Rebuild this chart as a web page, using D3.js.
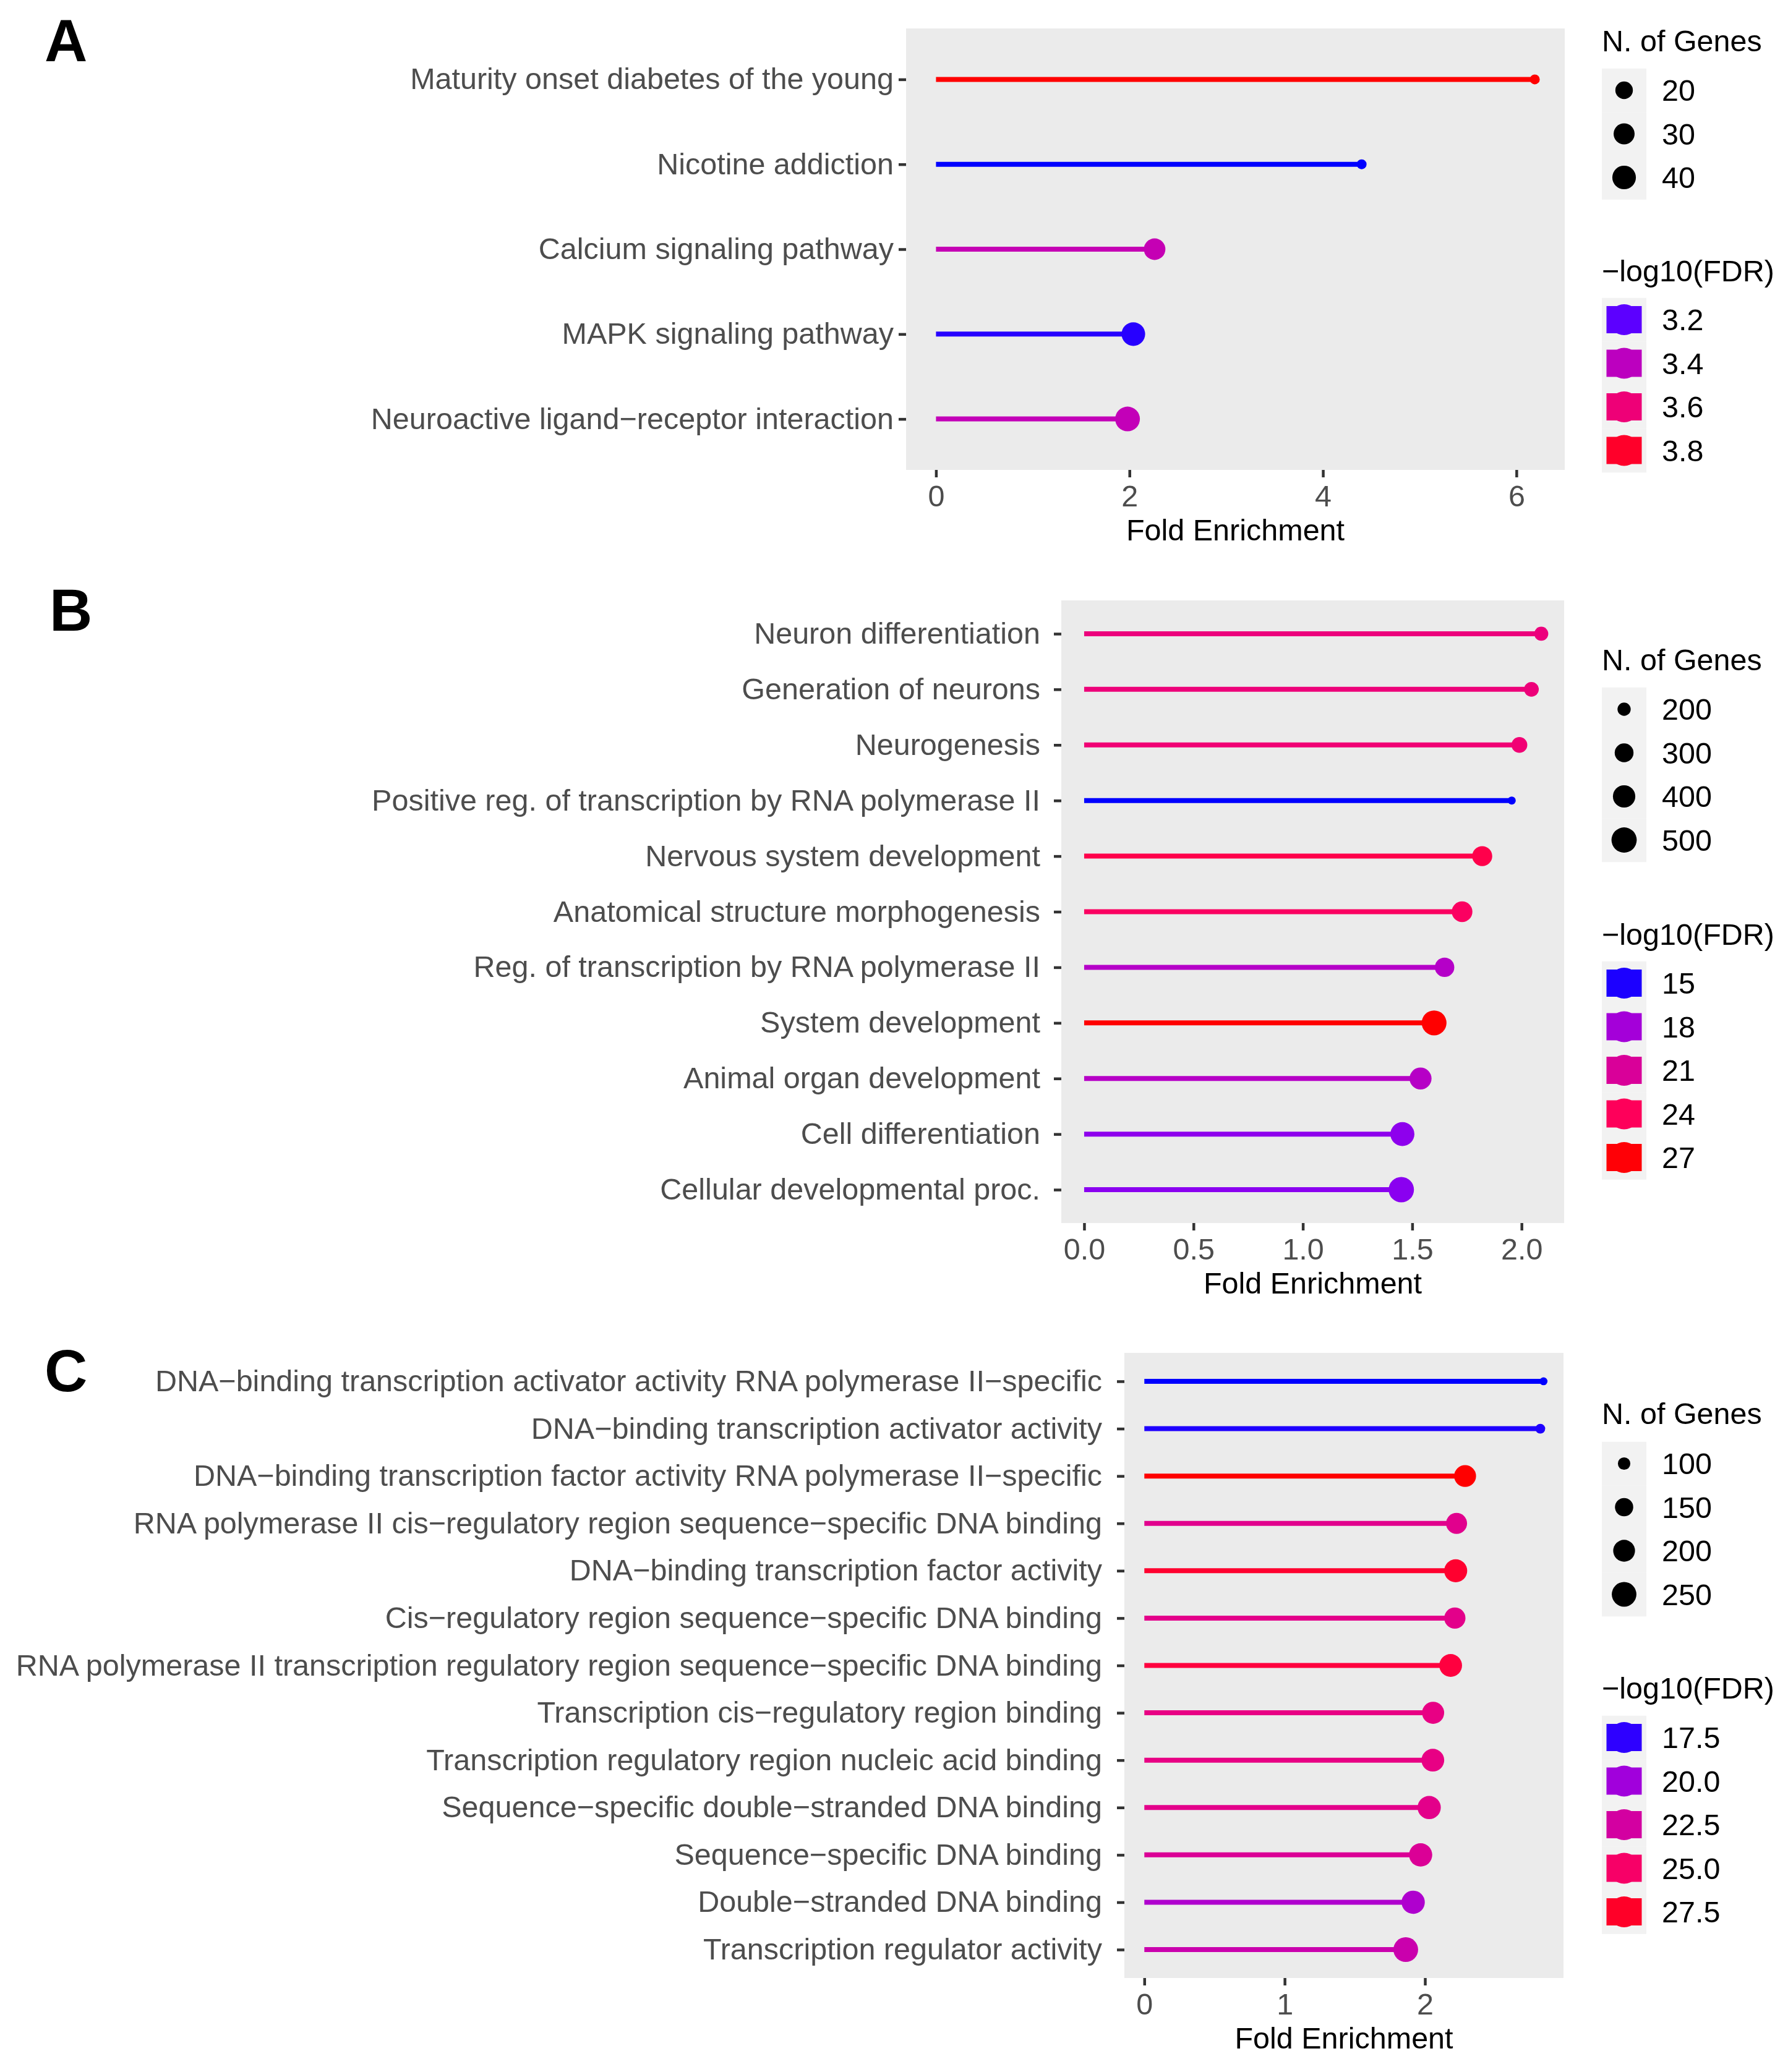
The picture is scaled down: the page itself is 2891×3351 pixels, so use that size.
<!DOCTYPE html>
<html>
<head>
<meta charset="utf-8">
<script src="https://cdn.jsdelivr.net/npm/d3@7"></script>
<style>
body { margin: 0; background: #fff; }
text { font-family: "Liberation Sans", Arial, sans-serif; }
</style>
</head>
<body>
<svg id="fig" width="2891" height="3351"></svg>
<script>
// ---- panel A: KEGG pathways ----
var aTerms = ["Maturity onset diabetes of the young", "Nicotine addiction", "Calcium signaling pathway",
    "MAPK signaling pathway", "Neuroactive ligand\u2212receptor interaction"];
var aFold = [6.19, 4.40, 2.26, 2.04, 1.98];
var aGenes = [11, 11, 32, 40, 45];
var aFdr = [3.86, 3.15, 3.43, 3.16, 3.42];
var aTicks = [0, 2, 4, 6];
var aTickLabels = ["0", "2", "4", "6"];
var aSizeBreaks = [20, 30, 40];
var aColorBreaks = [3.2, 3.4, 3.6, 3.8];
var aColorLabels = ["3.2", "3.4", "3.6", "3.8"];

// ---- panel B: biological process ----
var bTerms = ["Neuron differentiation", "Generation of neurons", "Neurogenesis",
    "Positive reg. of transcription by RNA polymerase II", "Nervous system development",
    "Anatomical structure morphogenesis", "Reg. of transcription by RNA polymerase II",
    "System development", "Animal organ development", "Cell differentiation", "Cellular developmental proc."];
var bFold = [2.09, 2.045, 1.99, 1.955, 1.82, 1.728, 1.648, 1.60, 1.538, 1.455, 1.45];
var bGenes = [210, 220, 238, 170, 331, 348, 315, 486, 388, 455, 505];
var bFdr = [22.4, 22.5, 22.8, 14.9, 24.7, 23.7, 18.8, 27.1, 18.9, 17.1, 17.0];
var bTicks = [0, 0.5, 1, 1.5, 2];
var bTickLabels = ["0.0", "0.5", "1.0", "1.5", "2.0"];
var bSizeBreaks = [200, 300, 400, 500];
var bColorBreaks = [15, 18, 21, 24, 27];
var bColorLabels = ["15", "18", "21", "24", "27"];

// ---- panel C: molecular function ----
var cTerms = ["DNA\u2212binding transcription activator activity RNA polymerase II\u2212specific",
    "DNA\u2212binding transcription activator activity",
    "DNA\u2212binding transcription factor activity RNA polymerase II\u2212specific",
    "RNA polymerase II cis\u2212regulatory region sequence\u2212specific DNA binding",
    "DNA\u2212binding transcription factor activity",
    "Cis\u2212regulatory region sequence\u2212specific DNA binding",
    "RNA polymerase II transcription regulatory region sequence\u2212specific DNA binding",
    "Transcription cis\u2212regulatory region binding",
    "Transcription regulatory region nucleic acid binding",
    "Sequence\u2212specific double\u2212stranded DNA binding",
    "Sequence\u2212specific DNA binding",
    "Double\u2212stranded DNA binding",
    "Transcription regulator activity"];
var cFold = [2.845, 2.822, 2.286, 2.225, 2.219, 2.213, 2.183, 2.058, 2.056, 2.030, 1.969, 1.916, 1.863];
var cGenes = [88, 90, 201, 188, 220, 191, 216, 205, 216, 224, 224, 224, 252];
var cFdr = [17.3, 17.4, 28.4, 23.4, 27.3, 23.5, 26.7, 23.8, 23.8, 23.5, 23.0, 20.6, 22.0];
var cTicks = [0, 1, 2];
var cTickLabels = ["0", "1", "2"];
var cSizeBreaks = [100, 150, 200, 250];
var cColorBreaks = [17.5, 20, 22.5, 25, 27.5];
var cColorLabels = ["17.5", "20.0", "22.5", "25.0", "27.5"];

var FS = 48.5;
var svg = d3.select("#fig");
svg.append("rect").attr("width", 2891).attr("height", 3351).attr("fill", "#fff");

function drawPanel(p) {
    var g = svg.append("g");
    var maxF = d3.max(p.fold);
    var x = d3.scaleLinear().domain([-0.05 * maxF, 1.05 * maxF]).range([p.left, p.right]);
    var y = d3.scalePoint().domain(p.terms).range([p.top, p.bottom]).padding(0.6);
    var lab = d3.scaleLinear().domain(d3.extent(p.fdr)).range(["blue", "red"]).interpolate(d3.interpolateLab);
    // the printed figure is a little brighter than a plain Lab ramp
    var col = (v) => d3.rgb(lab(v)).brighter(0.33).formatHex();
    var ext = d3.extent(p.genes);
    var rad = (v) => {
        var t = Math.max(0, (v - ext[0]) / (ext[1] - ext[0]));
        return p.rmin + (p.rmax - p.rmin) * Math.sqrt(t);
    };
    var rows = p.terms.map((t, i) => ({term: t, fold: p.fold[i], genes: p.genes[i], fdr: p.fdr[i]}));

    g.append("rect").attr("x", p.left).attr("y", p.top)
        .attr("width", p.right - p.left).attr("height", p.bottom - p.top).attr("fill", "#ebebeb");

    g.selectAll(".stem").data(rows).enter().append("line")
        .attr("x1", x(0)).attr("x2", (d) => x(d.fold))
        .attr("y1", (d) => y(d.term)).attr("y2", (d) => y(d.term))
        .attr("stroke", (d) => col(d.fdr)).attr("stroke-width", 8);

    g.selectAll(".dot").data(rows).enter().append("circle")
        .attr("cx", (d) => x(d.fold)).attr("cy", (d) => y(d.term))
        .attr("r", (d) => rad(d.genes)).attr("fill", (d) => col(d.fdr));

    // axes
    var yAxis = g.append("g").attr("transform", "translate(" + p.left + ",0)")
        .call(d3.axisLeft(y).tickSize(12).tickPadding(p.labelPad));
    var xAxis = g.append("g").attr("transform", "translate(0," + p.bottom + ")")
        .call(d3.axisBottom(x).tickValues(p.ticks).tickSize(12).tickPadding(13)
            .tickFormat((d, i) => p.tickLabels[i]));
    [yAxis, xAxis].forEach((ax) => {
        ax.select(".domain").remove();
        ax.selectAll(".tick line").attr("stroke", "#333").attr("stroke-width", 4.5);
        ax.selectAll(".tick text").attr("fill", "#4d4d4d").style("font-size", FS + "px")
            .style("font-family", "'Liberation Sans', Arial, sans-serif");
    });

    g.append("text").attr("x", (p.left + p.right) / 2).attr("y", p.bottom + 114)
        .attr("text-anchor", "middle").style("font-size", FS + "px").text("Fold Enrichment");

    g.append("text").attr("x", p.letterX).attr("y", p.letterY)
        .style("font-size", "96px").style("font-weight", "bold").text(p.letter);

    // size legend
    var step = 70.5, lx = 2590, kw = 72;
    g.append("text").attr("x", lx).attr("y", p.sizeTitleY + 17).style("font-size", FS + "px").text("N. of Genes");
    var sk = g.selectAll(".skey").data(p.sizeBreaks).enter().append("g")
        .attr("transform", (d, i) => "translate(" + lx + "," + (p.sizeKeyY + i * step) + ")");
    sk.append("rect").attr("x", 0).attr("y", -step / 2).attr("width", kw).attr("height", step + 0.5).attr("fill", "#f2f2f2");
    sk.append("circle").attr("cx", kw / 2).attr("cy", 0).attr("r", (d) => rad(d)).attr("fill", "#000");
    sk.append("text").attr("x", 97).attr("y", 17).style("font-size", FS + "px").text((d) => d);

    // colour legend
    g.append("text").attr("x", lx).attr("y", p.colorTitleY + 17).style("font-size", FS + "px").text("\u2212log10(FDR)");
    var ck = g.selectAll(".ckey").data(p.colorBreaks).enter().append("g")
        .attr("transform", (d, i) => "translate(" + lx + "," + (p.colorKeyY + i * step) + ")");
    ck.append("rect").attr("x", 0).attr("y", -step / 2).attr("width", kw).attr("height", step + 0.5).attr("fill", "#f2f2f2");
    ck.append("rect").attr("x", kw / 2 - 28.5).attr("y", -22).attr("width", 57).attr("height", 44).attr("fill", (d) => col(d));
    ck.append("circle").attr("cx", kw / 2).attr("cy", 0).attr("r", 25).attr("fill", (d) => col(d));
    ck.append("text").attr("x", 97).attr("y", 17).style("font-size", FS + "px").text((d, i) => p.colorLabels[i]);
}

drawPanel({
    terms: aTerms, fold: aFold, genes: aGenes, fdr: aFdr, ticks: aTicks, tickLabels: aTickLabels,
    sizeBreaks: aSizeBreaks, colorBreaks: aColorBreaks, colorLabels: aColorLabels,
    left: 1465, right: 2530, top: 46, bottom: 760, labelPad: 8, rmin: 8, rmax: 20,
    letter: "A", letterX: 72, letterY: 99,
    sizeTitleY: 66, sizeKeyY: 146, colorTitleY: 438, colorKeyY: 517
});
drawPanel({
    terms: bTerms, fold: bFold, genes: bGenes, fdr: bFdr, ticks: bTicks, tickLabels: bTickLabels,
    sizeBreaks: bSizeBreaks, colorBreaks: bColorBreaks, colorLabels: bColorLabels,
    left: 1716, right: 2529, top: 971, bottom: 1978, labelPad: 22, rmin: 6.5, rmax: 20.5,
    letter: "B", letterX: 80, letterY: 1020,
    sizeTitleY: 1067, sizeKeyY: 1147, colorTitleY: 1511, colorKeyY: 1590
});
drawPanel({
    terms: cTerms, fold: cFold, genes: cGenes, fdr: cFdr, ticks: cTicks, tickLabels: cTickLabels,
    sizeBreaks: cSizeBreaks, colorBreaks: cColorBreaks, colorLabels: cColorLabels,
    left: 1818, right: 2528, top: 2188, bottom: 3199, labelPad: 24, rmin: 6.4, rmax: 20,
    letter: "C", letterX: 72, letterY: 2250,
    sizeTitleY: 2286, sizeKeyY: 2367, colorTitleY: 2730, colorKeyY: 2810
});
</script>
</body>
</html>
